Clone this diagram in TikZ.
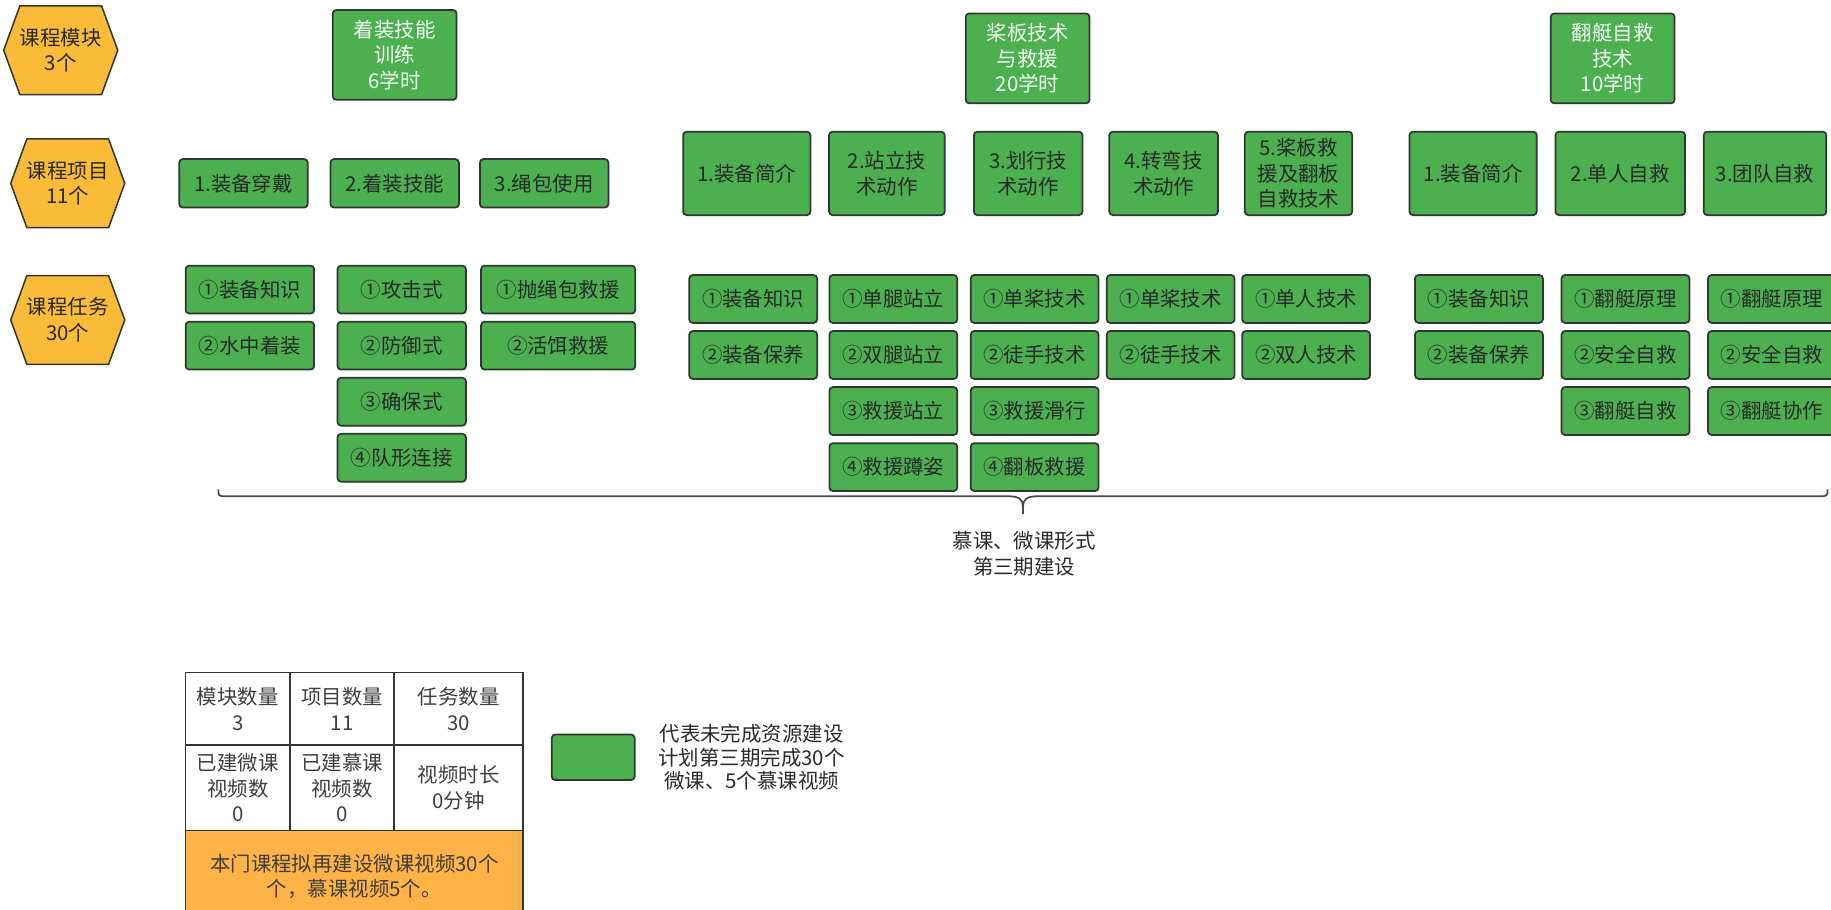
\documentclass[tikz,border=0pt]{standalone}
\usepackage{fontspec}
\setmainfont{Noto Sans CJK SC}
\usetikzlibrary{positioning,shapes.symbols}
\definecolor{boxgreen}{RGB}{76,175,80}
\definecolor{hexgold}{RGB}{250,188,56}
\definecolor{cellorange}{RGB}{255,179,71}
\definecolor{edgegray}{RGB}{48,54,48}
\definecolor{txtdark}{RGB}{40,42,40}
\tikzset{
  txt/.style={font=\fontsize{17.5}{22}\selectfont, align=center, inner sep=0pt, text=txtdark},
  greenbox/.style={txt, draw=edgegray, fill=boxgreen, line width=1.5pt, rounded corners=3pt},
  modbox/.style={greenbox, minimum width=106pt, minimum height=77pt, text=white!92!boxgreen},
  projbox/.style={greenbox, minimum width=110pt, minimum height=41.5pt},
  bigproj/.style={greenbox, minimum height=71.5pt},
  taskbox/.style={greenbox, minimum width=109.5pt, minimum height=41pt},
  hexbox/.style={txt, shape=signal, signal to=east and west, signal pointer angle=140,
    draw=edgegray, fill=hexgold, line width=1.3pt, minimum width=92pt, minimum height=76pt},
  cell/.style={txt, draw=edgegray, line width=1.2pt, text=txtdark!90},
  bracestyle/.style={draw=edgegray!90, line width=1.5pt},
}
\begin{document}
\begin{tikzpicture}[x=1pt, y=-1pt]
\useasboundingbox (0,0) rectangle (1568,779);
% level markers
\node[hexbox] (hexmod) at (52,43) {课程模块\\3个};
\node[hexbox] (hexproj) at (58,157) {课程项目\\11个};
\node[hexbox] (hextask) at (58,274) {课程任务\\30个};

% modules
\node[modbox] (moddress) at (338,47) {着装技能\\训练\\6学时};
\node[modbox] (modpaddle) at (880,50) {桨板技术\\与救援\\20学时};
\node[modbox] (modflip) at (1381,50) {翻艇自救\\技术\\10学时};

% projects
\node[projbox] (pdress1) at (208.5,157) {1.装备穿戴};
\node[projbox] (pdress2) at (338,157) {2.着装技能};
\node[projbox] (pdress3) at (466,157) {3.绳包使用};
\node[bigproj, minimum width=109pt] (ppaddle1) at (639.5,148.5) {1.装备简介};
\node[bigproj, minimum width=99pt] (ppaddle2) at (759.5,148.5) {2.站立技\\术动作};
\node[bigproj, minimum width=93pt] (ppaddle3) at (880.5,148.5) {3.划行技\\术动作};
\node[bigproj, minimum width=93pt] (ppaddle4) at (996.5,148.5) {4.转弯技\\术动作};
\node[bigproj, minimum width=92pt] (ppaddle5) at (1112,148.5) {5.桨板救\\援及翻板\\自救技术};
\node[bigproj, minimum width=109pt] (pflip1) at (1261.5,148.5) {1.装备简介};
\node[bigproj, minimum width=111pt] (pflip2) at (1387.5,148.5) {2.单人自救};
\node[bigproj, minimum width=105pt] (pflip3) at (1511.5,148.5) {3.团队自救};

% tasks, dressing module
\node[taskbox, minimum width=110pt] (tdress1a) at (214,248) {①装备知识};
\node[taskbox, minimum width=110pt, below=5.5pt of tdress1a] (tdress1b) {②水中着装};
\node[taskbox, minimum width=110pt] (tdress2a) at (344,248) {①攻击式};
\node[taskbox, minimum width=110pt, below=5.5pt of tdress2a] (tdress2b) {②防御式};
\node[taskbox, minimum width=110pt, below=5.5pt of tdress2b] (tdress2c) {③确保式};
\node[taskbox, minimum width=110pt, below=5.5pt of tdress2c] (tdress2d) {④队形连接};
\node[taskbox, minimum width=132pt] (tdress3a) at (478,248) {①抛绳包救援};
\node[taskbox, minimum width=132pt, below=5.5pt of tdress3a] (tdress3b) {②活饵救援};

% tasks, paddle module
\node[taskbox] (tpaddle1a) at (645,256) {①装备知识};
\node[taskbox, below=5.5pt of tpaddle1a] (tpaddle1b) {②装备保养};
\node[taskbox] (tpaddle2a) at (765,256) {①单腿站立};
\node[taskbox, below=5.5pt of tpaddle2a] (tpaddle2b) {②双腿站立};
\node[taskbox, below=5.5pt of tpaddle2b] (tpaddle2c) {③救援站立};
\node[taskbox, below=5.5pt of tpaddle2c] (tpaddle2d) {④救援蹲姿};
\node[taskbox] (tpaddle3a) at (886,256) {①单桨技术};
\node[taskbox, below=5.5pt of tpaddle3a] (tpaddle3b) {②徒手技术};
\node[taskbox, below=5.5pt of tpaddle3b] (tpaddle3c) {③救援滑行};
\node[taskbox, below=5.5pt of tpaddle3c] (tpaddle3d) {④翻板救援};
\node[taskbox] (tpaddle4a) at (1002.5,256) {①单桨技术};
\node[taskbox, below=5.5pt of tpaddle4a] (tpaddle4b) {②徒手技术};
\node[taskbox] (tpaddle5a) at (1118.5,256) {①单人技术};
\node[taskbox, below=5.5pt of tpaddle5a] (tpaddle5b) {②双人技术};

% tasks, capsize module
\node[taskbox] (tflip1a) at (1266.5,256) {①装备知识};
\node[taskbox, below=5.5pt of tflip1a] (tflip1b) {②装备保养};
\node[taskbox] (tflip2a) at (1392,256) {①翻艇原理};
\node[taskbox, below=5.5pt of tflip2a] (tflip2b) {②安全自救};
\node[taskbox, below=5.5pt of tflip2b] (tflip2c) {③翻艇自救};
\node[taskbox] (tflip3a) at (1517.5,256) {①翻艇原理};
\node[taskbox, below=5.5pt of tflip3a] (tflip3b) {②安全自救};
\node[taskbox, below=5.5pt of tflip3b] (tflip3c) {③翻艇协作};

% brace under the tasks
\coordinate (braceL) at (187,419);
\coordinate (braceR) at (1565,419);
\coordinate (bracetip) at (876,440);
\draw[bracestyle] (braceL) .. controls (187,425) .. (195,425) -- (864,425)
  .. controls (873,425) and (876,428) .. (876,434) -- (bracetip);
\draw[bracestyle] (braceR) .. controls (1565,425) .. (1557,425) -- (888,425)
  .. controls (879,425) and (876,428) .. (876,434);
\node[txt] (bracelabel) at (877,474) {慕课、微课形式\\第三期建设};

% summary table
\node[cell, minimum width=89.4pt, minimum height=62pt] (nummod) at (203.7,607) {模块数量\\3};
\node[cell, minimum width=89.1pt, minimum height=62pt] (numproj) at (293,607) {项目数量\\11};
\node[cell, minimum width=110.5pt, minimum height=62pt] (numtask) at (392.7,607) {任务数量\\30};
\node[cell, minimum width=89.4pt, minimum height=73pt] (nummicro) at (203.7,674.5) {已建微课\\视频数\\0};
\node[cell, minimum width=89.1pt, minimum height=73pt] (nummooc) at (293,674.5) {已建慕课\\视频数\\0};
\node[cell, minimum width=110.5pt, minimum height=73pt] (numtime) at (392.7,674.5) {视频时长\\0分钟};
\node[cell, fill=cellorange, minimum width=289pt, minimum height=79pt] (plan) at (303.5,750.5)
  {本门课程拟再建设微课视频30个\\个，慕课视频5个。};

% legend
\node[greenbox, minimum width=71pt, minimum height=39pt] (legbox) at (508,648.5) {};
\node[txt, font=\fontsize{17.5}{20}\selectfont, right=19.5pt of legbox] (legtext)
  {代表未完成资源建设\\计划第三期完成30个\\微课、5个慕课视频};
\end{tikzpicture}
\end{document}
